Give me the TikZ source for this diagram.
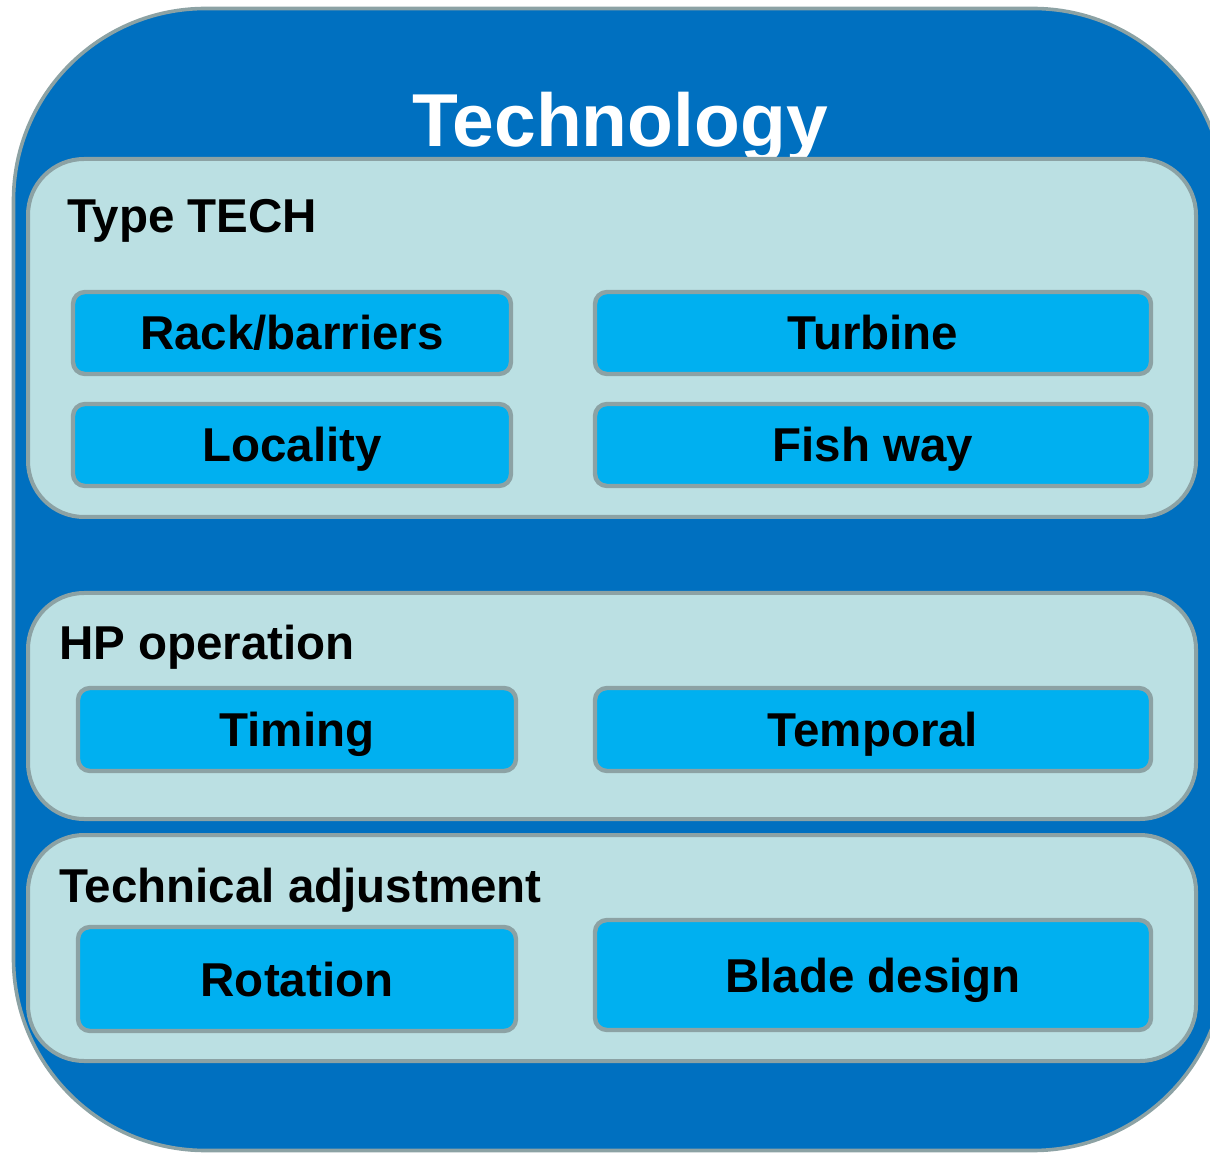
\documentclass[tikz,border=0pt]{standalone}
\usepackage{fontspec}
\setmainfont{Liberation Sans}
\usepackage{tikz}

\definecolor{techblue}{HTML}{0070C0}
\definecolor{panelfill}{HTML}{BBE0E3}
\definecolor{itemfill}{HTML}{00B0F0}
\definecolor{edgegray}{HTML}{8CA2A4}

\begin{document}
\begin{tikzpicture}[x=0.5pt, y=-0.5pt,
    panel/.style={draw=edgegray, line width=2pt, fill=panelfill, rounded corners=28pt, inner sep=0pt, minimum width=584pt},
    item/.style={draw=edgegray, line width=2.2pt, fill=itemfill, rounded corners=6pt, inner sep=0pt,
        text height=17pt, text depth=0pt, font=\bfseries\fontsize{23.75}{28}\selectfont},
    heading/.style={anchor=base west, inner sep=0pt, font=\bfseries\fontsize{23.75}{28}\selectfont}]

            % Frame
            \clip (0,0) rectangle (1210,1154);
            \draw[draw=edgegray, line width=1.8pt, fill=techblue, rounded corners=96pt] (13.5,8.5) rectangle (1225,1150.5);
            \node[anchor=base, inner sep=0pt, text=white, font=\bfseries\fontsize{37.5}{45}\selectfont] (title) at (620,147) {Technology};

            % Panels
            \node[panel, minimum height=179pt] (type) at (612,338) {};
            \node[panel, minimum height=113pt] (hp) at (612,706) {};
            \node[panel, minimum height=113pt] (adjust) at (612,948) {};

            % Headings
            \node[heading] (typelabel) at (67,233) {Type TECH};
            \node[heading] (hplabel) at (59,660) {HP operation};
            \node[heading] (adjustlabel) at (59,902) {Technical adjustment};

            % Boxes
            \node[item, minimum width=219pt, minimum height=41pt] (rack) at (292,333) {Rack/barriers};
            \node[item, minimum width=278pt, minimum height=41pt] (turbine) at (873,333) {Turbine};
            \node[item, minimum width=219pt, minimum height=41pt] (locality) at (292,445) {Locality};
            \node[item, minimum width=278pt, minimum height=41pt] (fishway) at (873,445) {Fish way};
            \node[item, minimum width=219pt, minimum height=41.5pt] (timing) at (297,729.5) {Timing};
            \node[item, minimum width=278pt, minimum height=41.5pt] (temporal) at (873,729.5) {Temporal};
            \node[item, minimum width=219pt, minimum height=52pt] (rotation) at (297,979) {Rotation};
            \node[item, minimum width=278pt, minimum height=55pt] (blade) at (873,975) {Blade design};

        \end{tikzpicture}
\end{document}
